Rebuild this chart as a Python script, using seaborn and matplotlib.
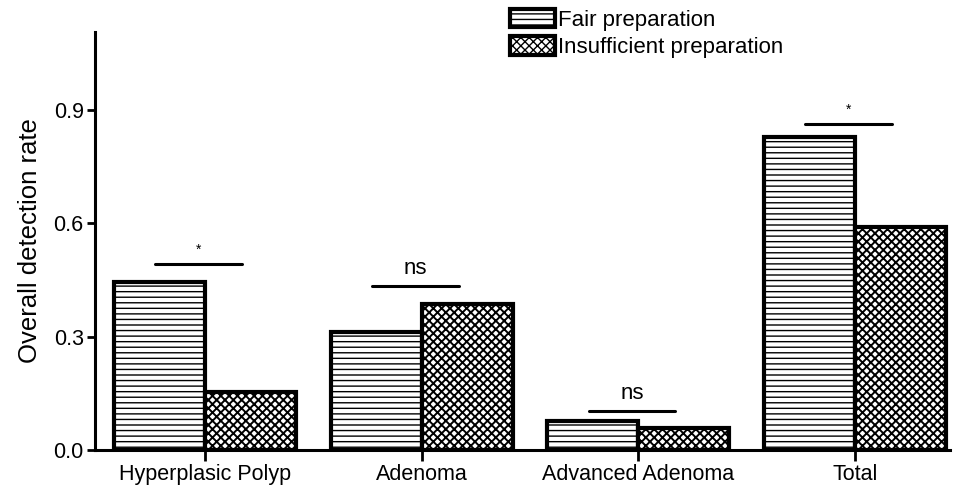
import pandas as pd
import numpy as np
import matplotlib.pyplot as plt
import seaborn as sns
from matplotlib.patches import Patch

categories = ["Hyperplasic Polyp", "Adenoma", "Advanced Adenoma", "Total"]
fair = [0.445, 0.312, 0.077, 0.828]
insufficient = [0.154, 0.386, 0.058, 0.590]
groups = ["Fair preparation", "Insufficient preparation"]
sig_labels = ["*", "ns", "ns", "*"]
sig_heights = [0.492, 0.434, 0.103, 0.863]

df = pd.DataFrame({
    "category": categories * 2,
    "rate": fair + insufficient,
    "group": [groups[0]] * 4 + [groups[1]] * 4,
})

sns.set_style("ticks")
plt.rcParams['font.family'] = ['Liberation Sans', 'DejaVu Sans']
plt.rcParams['hatch.linewidth'] = 1.0
for k in ["text.color", "axes.labelcolor", "xtick.color", "ytick.color", "axes.edgecolor"]:
    plt.rcParams[k] = "black"

fig = plt.figure(figsize=(9.57, 4.86), dpi=100)
ax = fig.add_axes([0.099, 0.074, 0.894, 0.86])

sns.barplot(data=df, x="category", y="rate", hue="group", order=categories,
            hue_order=groups, width=0.84, palette=["white", "white"],
            legend=False, ax=ax)

hatches = ["---", "xxxx"]
hatch_lw = [1.0, 1.4]


def style_bar(p, h, hlw):
    p.set_facecolor("white")
    p.set_edgecolor("black")
    p.set_linewidth(3)
    p.set_hatch(h)
    if hasattr(p, "set_hatch_linewidth"):
        p.set_hatch_linewidth(hlw)


for cont, h, hlw in zip(ax.containers, hatches, hatch_lw):
    for bar in cont:
        style_bar(bar, h, hlw)

for i, (lab, hgt) in enumerate(zip(sig_labels, sig_heights)):
    ax.plot([i - 0.23, i + 0.17], [hgt, hgt], color="black", lw=2.2)
    if lab == "*":
        ax.text(i - 0.03, hgt + 0.02, lab, ha="center", va="bottom", fontsize=10)
    else:
        ax.text(i - 0.03, hgt + 0.02, lab, ha="center", va="bottom", fontsize=16)

ax.set_xlim(-0.51, 3.44)
ax.set_ylim(0, 1.107)
ax.set_yticks([0.0, 0.3, 0.6, 0.9])
ax.set_yticklabels(["0.0", "0.3", "0.6", "0.9"])
ax.set_xlabel("")
ax.set_ylabel("Overall detection rate", fontsize=18.5, labelpad=8)
ax.tick_params(axis="both", labelsize=15.5, width=2, length=6, pad=2)
ax.tick_params(axis="x", length=8)
for s in ["top", "right"]:
    ax.spines[s].set_visible(False)
for s in ["left", "bottom"]:
    ax.spines[s].set_linewidth(2.2)

handles = []
for h, hlw in zip(hatches, hatch_lw):
    p = Patch()
    style_bar(p, h, hlw)
    handles.append(p)
fig.legend(handles, groups, loc="upper left", bbox_to_anchor=(0.517, 1.014),
           frameon=False, fontsize=16, handlelength=2.0, handleheight=0.9,
           handletextpad=0.15, labelspacing=0.25, borderpad=0.2)

fig.savefig("out.png", dpi=100)
